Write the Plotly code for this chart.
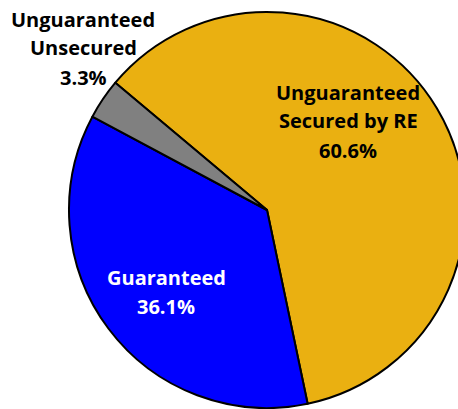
import plotly.graph_objects as go

categories = ["Unguaranteed Secured by RE", "Guaranteed", "Unguaranteed Unsecured"]
label_lines = [["Unguaranteed", "Secured by RE"], ["Guaranteed"], ["Unguaranteed", "Unsecured"]]
values = [60.6, 36.1, 3.3]
colors = ["#EAB011", "#0000FF", "#808080"]
text_colors = ["#000000", "#FFFFFF", "#000000"]
# label block: center x and first-line center y in pixels (from top)
label_px = [(348, 92), (166, 277), (83, 19)]
LINE_H = 29

W, H = 470, 409
cx, cy, r = 267, 210, 198

fig = go.Figure(go.Pie(
    labels=categories,
    values=values,
    marker=dict(colors=colors, line=dict(color="#000000", width=2)),
    sort=False,
    direction="clockwise",
    rotation=-50,
    textinfo="none",
    hoverinfo="label+percent",
    showlegend=False,
    domain=dict(x=[(cx - r) / W, (cx + r) / W], y=[(H - cy - r) / H, (H - cy + r) / H]),
))

for lines, v, tc, (px, py) in zip(label_lines, values, text_colors, label_px):
    for i, t in enumerate(lines + [f"{v:.1f}%"]):
        fig.add_annotation(
            x=px / W, y=1 - (py + i * LINE_H) / H, xref="paper", yref="paper",
            text=t,
            showarrow=False, xanchor="center", yanchor="middle",
            font=dict(family="Open Sans", size=20, color=tc, weight="bold"),
        )

fig.update_layout(
    width=W, height=H,
    margin=dict(l=0, r=0, t=0, b=0),
    paper_bgcolor="white",
    plot_bgcolor="white",
)

fig.write_html(
    "out.html",
    config={"displayModeBar": False},
    post_script="document.body.style.margin='0';document.body.style.overflow='hidden';"
                "document.documentElement.style.overflow='hidden';",
)
